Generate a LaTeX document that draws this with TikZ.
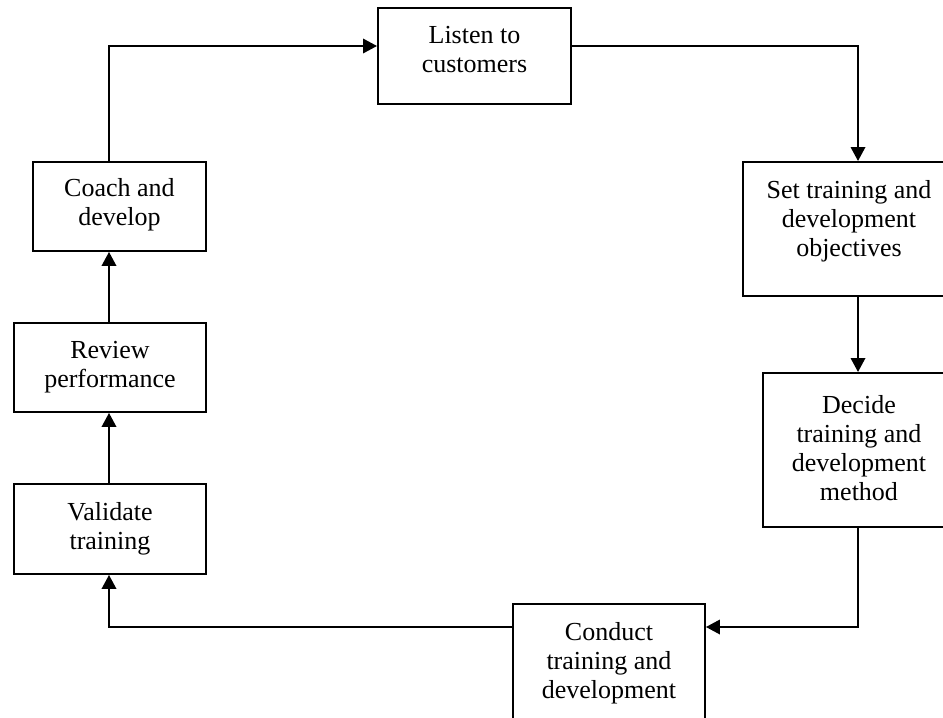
\documentclass[tikz,border=0pt]{standalone}
\usepackage{fontspec}
\setmainfont{Liberation Serif}
\usetikzlibrary{positioning}
\usetikzlibrary{arrows.meta}

\tikzset{
    stage/.style 2 args={draw, line width=1.1pt, anchor=north west, inner sep=0pt,
        minimum width=#1*0.02cm, minimum height=#2*0.02cm},
    words/.style={align=center, inner sep=0pt, font=\fontsize{14.8}{16.6}\selectfont},
    flow/.style={line width=1.1pt, -{Triangle[length=2.8mm,width=2.9mm]}}
}

\begin{document}
\begin{tikzpicture}[x=0.02cm, y=-0.02cm, node distance=0.38cm]
            \useasboundingbox (0,0) rectangle (943,717);
            \clip (0,0) rectangle (943,717);

            \node[stage={193}{96}] (listen) at (377,7) {};
            \node[stage={212}{134}] (setobj) at (742,161) {};
            \node[stage={192}{154}] (decide) at (762,372) {};
            \node[stage={192}{140}] (conduct) at (512,603) {};
            \node[stage={192}{90}] (validate) at (13,483) {};
            \node[stage={192}{89}] (review) at (13,322) {};
            \node[stage={173}{89}] (coach) at (32,161) {};

            \node[words, below=of listen.north] {Listen to\\customers};
            \node[words, below=of setobj.north] {Set training and\\development\\objectives};
            \node[words, below=0.46cm of decide.north] {Decide\\training and\\development\\method};
            \node[words, below=of conduct.north] {Conduct\\training and\\development};
            \node[words, below=of validate.north] {Validate\\training};
            \node[words, below=of review.north] {Review\\performance};
            \node[words, below=0.34cm of coach.north] {Coach and\\develop};

            \coordinate (toprail) at (0,46);
            \coordinate (botrail) at (0,627);
            \coordinate (leftrail) at (109,0);
            \coordinate (rightrail) at (858,0);

            \draw[flow] (coach.north -| leftrail) |- (listen.west |- toprail);
            \draw[flow] (listen.east |- toprail) -| (setobj.north -| rightrail);
            \draw[flow] (setobj.south -| rightrail) -- (decide.north -| rightrail);
            \draw[flow] (decide.south -| rightrail) |- (conduct.east |- botrail);
            \draw[flow] (conduct.west |- botrail) -| (validate.south -| leftrail);
            \draw[flow] (validate.north -| leftrail) -- (review.south -| leftrail);
            \draw[flow] (review.north -| leftrail) -- (coach.south -| leftrail);
        \end{tikzpicture}
\end{document}
